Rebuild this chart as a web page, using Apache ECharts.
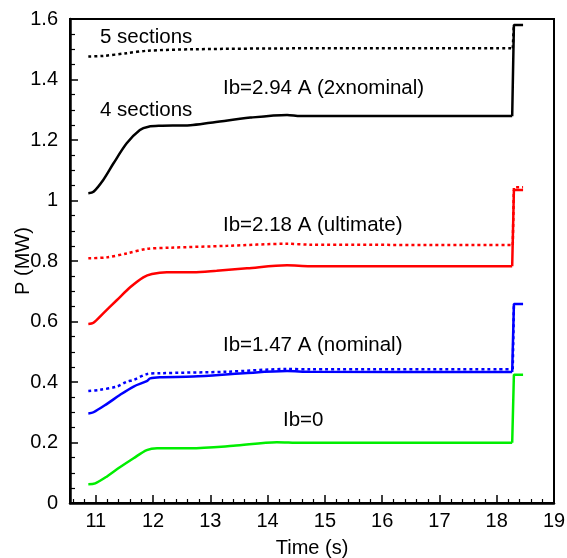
<!DOCTYPE html>
<html>
<head>
<meta charset="utf-8">
<script src="https://cdn.jsdelivr.net/npm/echarts@6/dist/echarts.min.js"></script>
<style>
  html, body { margin: 0; padding: 0; background: #fff; }
  #chart { width: 567px; height: 558px; }
</style>
</head>
<body>
<div id="chart"></div>
<script>
// tick labels
const xTicks = [11, 12, 13, 14, 15, 16, 17, 18, 19];
const xMinorTicks = [10.6, 10.8, 11.2, 11.4, 11.6, 11.8, 12.2, 12.4, 12.6, 12.8, 13.2, 13.4, 13.6, 13.8,
  14.2, 14.4, 14.6, 14.8, 15.2, 15.4, 15.6, 15.8, 16.2, 16.4, 16.6, 16.8, 17.2, 17.4, 17.6, 17.8,
  18.2, 18.4, 18.6, 18.8];

// 4 sections, Ib=2.94 A (black solid)
const black4X = [10.87, 10.96, 11.13, 11.31, 11.54, 11.77, 11.92, 12.12, 12.65, 13.0, 13.7, 14.34, 14.57, 18.27, 18.3, 18.46];
const black4Y = [1.024, 1.029, 1.068, 1.123, 1.189, 1.233, 1.244, 1.247, 1.249, 1.257, 1.274, 1.283, 1.279, 1.279, 1.58, 1.58];
// 5 sections, Ib=2.94 A (black dotted)
const black5X = [10.87, 11.13, 11.54, 11.89, 12.7, 14.74, 18.28, 18.3];
const black5Y = [1.476, 1.478, 1.487, 1.495, 1.5, 1.503, 1.503, 1.58];
// Ib=2.18 A
const red4X = [10.87, 10.96, 11.13, 11.37, 11.6, 11.83, 11.98, 12.24, 12.7, 13.11, 13.64, 14.34, 14.74, 18.27, 18.3, 18.46];
const red4Y = [0.592, 0.596, 0.627, 0.671, 0.713, 0.746, 0.757, 0.763, 0.763, 0.768, 0.776, 0.786, 0.783, 0.783, 1.035, 1.035];
const red5X = [10.87, 11.19, 11.54, 11.89, 12.3, 13.29, 14.34, 14.74, 18.28, 18.3, 18.46];
const red5Y = [0.809, 0.812, 0.825, 0.84, 0.844, 0.85, 0.857, 0.854, 0.853, 1.044, 1.044];
// Ib=1.47 A
const blue4X = [10.87, 10.96, 11.19, 11.42, 11.66, 11.89, 11.95, 12.12, 12.7, 13.58, 14.34, 14.74, 18.27, 18.3, 18.46];
const blue4Y = [0.296, 0.3, 0.327, 0.357, 0.385, 0.403, 0.412, 0.416, 0.418, 0.429, 0.436, 0.434, 0.433, 0.658, 0.658];
const blue5X = [10.87, 11.07, 11.37, 11.54, 11.66, 11.89, 12.12, 13.29, 14.34, 14.74, 18.28, 18.3];
const blue5Y = [0.37, 0.374, 0.385, 0.401, 0.407, 0.426, 0.429, 0.434, 0.443, 0.442, 0.442, 0.658];
// Ib=0
const greenX = [10.87, 10.99, 11.19, 11.42, 11.66, 11.89, 12.07, 12.65, 13.4, 14.16, 14.57, 18.27, 18.3, 18.46];
const greenY = [0.062, 0.065, 0.087, 0.118, 0.148, 0.175, 0.181, 0.181, 0.189, 0.201, 0.199, 0.199, 0.424, 0.424];

const font = "'Liberation Sans', Arial, sans-serif";

function pairs(xs, ys) {
  return xs.map((x, i) => [x, ys[i]]);
}

// each curve = smooth part + sharp jump at the end (two series, same data)
function makeLine(name, xs, ys, color, dotted) {
  const data = pairs(xs, ys);
  const cut = xs.findIndex((x) => x > 18);
  const style = {
    color: color,
    width: 2.5,
    type: dotted ? [3, 3] : "solid"
  };
  const base = {
    type: "line",
    showSymbol: false,
    symbol: "none",
    animation: false,
    lineStyle: style
  };
  return [
    Object.assign({}, base, { name: name, data: data.slice(0, cut + 1), smooth: 0.3 }),
    Object.assign({}, base, { name: name + " jump", data: data.slice(cut), smooth: false })
  ];
}

function label(text, x, y) {
  return {
    type: "text",
    left: x,
    top: y,
    style: {
      text: text,
      font: "20.5px " + font,
      fill: "#000",
      textVerticalAlign: "middle"
    }
  };
}

const chart = echarts.init(document.getElementById("chart"));
const option = {
  animation: false,
  backgroundColor: "#fff",
  grid: {
    left: 70,
    right: 13,
    top: 19,
    bottom: 55,
    containLabel: false,
    outerBoundsMode: "none",
    show: true,
    borderColor: "#000",
    borderWidth: 2
  },
  xAxis: [
    {
      type: "value",
      min: 10.55,
      max: 19,
      name: "Time (s)",
      nameLocation: "middle",
      nameGap: 35,
      nameMoveOverlap: false,
      nameTextStyle: { color: "#000", fontSize: 20, fontFamily: font },
      axisLine: { show: true, onZero: false, lineStyle: { color: "#000", width: 2.5 } },
      axisTick: {
        show: true,
        inside: true,
        length: 8,
        customValues: xTicks,
        lineStyle: { color: "#000", width: 1.5 }
      },
      axisLabel: {
        customValues: xTicks,
        margin: 8,
        color: "#000",
        fontSize: 20,
        fontFamily: font
      },
      splitLine: { show: false }
    },
    {
      // minor ticks only
      type: "value",
      position: "bottom",
      min: 10.55,
      max: 19,
      axisLine: { show: false },
      axisTick: {
        show: true,
        inside: true,
        length: 4,
        customValues: xMinorTicks,
        lineStyle: { color: "#000", width: 1.2 }
      },
      axisLabel: { show: false },
      splitLine: { show: false }
    }
  ],
  yAxis: {
    type: "value",
    min: 0,
    max: 1.6,
    interval: 0.2,
    name: "P (MW)",
    nameLocation: "middle",
    nameGap: 37,
    nameMoveOverlap: false,
    nameTextStyle: { color: "#000", fontSize: 20, fontFamily: font },
    axisLine: { show: true, onZero: false, lineStyle: { color: "#000", width: 2.5 } },
    axisTick: { show: true, inside: true, length: 8, lineStyle: { color: "#000", width: 1.5 } },
    minorTick: { show: true, splitNumber: 4, length: 5, lineStyle: { color: "#000", width: 1.2 } },
    axisLabel: { margin: 12, color: "#000", fontSize: 20, fontFamily: font },
    splitLine: { show: false },
    minorSplitLine: { show: false }
  },
  series: [].concat(
    makeLine("Ib=0", greenX, greenY, "#00ee00", false),
    makeLine("Ib=1.47 A 4", blue4X, blue4Y, "#0000ff", false),
    makeLine("Ib=1.47 A 5", blue5X, blue5Y, "#0000ff", true),
    makeLine("Ib=2.18 A 4", red4X, red4Y, "#ff0000", false),
    makeLine("Ib=2.18 A 5", red5X, red5Y, "#ff0000", true),
    makeLine("Ib=2.94 A 4", black4X, black4Y, "#000000", false),
    makeLine("Ib=2.94 A 5", black5X, black5Y, "#000000", true)
  ),
  graphic: [
    label("5 sections", 100, 27),
    label("4 sections", 100, 100),
    label("Ib=2.94 A (2xnominal)", 223, 78),
    label("Ib=2.18 A (ultimate)", 223, 215),
    label("Ib=1.47 A (nominal)", 223, 335),
    label("Ib=0", 283, 410)
  ]
};
chart.setOption(option);
</script>
</body>
</html>
